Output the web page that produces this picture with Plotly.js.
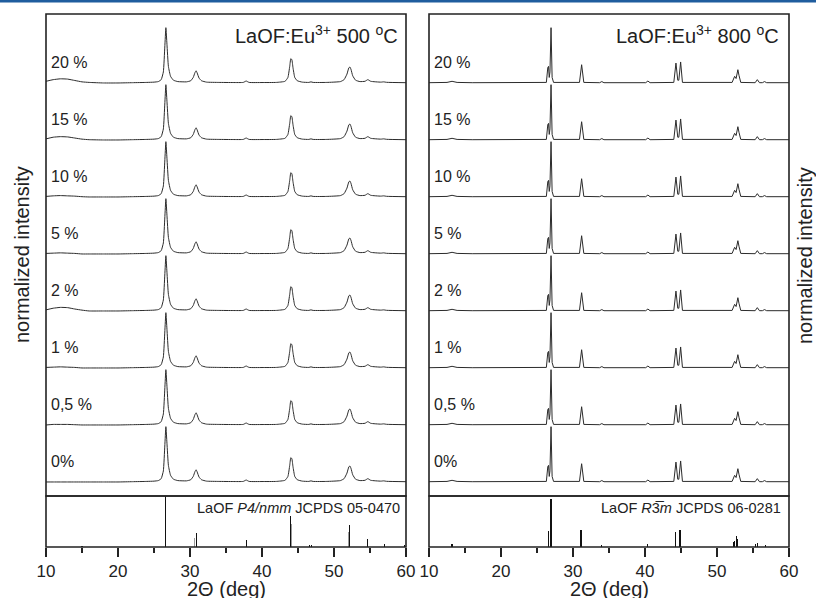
<!DOCTYPE html>
<html>
<head>
<meta charset="utf-8">
<script src="https://cdn.plot.ly/plotly-3.0.1.min.js"></script>
<style>html,body{margin:0;padding:0;background:#fff;}#chart{width:816px;height:598px;}</style>
</head>
<body>
<div id="chart"></div>
<script>
// ---- sample labels (bottom to top) ----
const samples = ['0%', '0,5 %', '1 %', '2 %', '5 %', '10 %', '15 %', '20 %'];

// ---- 500 °C pattern (normalized) ----
const twoTheta500 = [10, 11, 12, 13, 14, 15, 16, 18, 20, 22, 24, 25, 25.6, 26.0, 26.3, 26.5, 26.65, 26.8, 27.0, 27.3, 27.7, 28.3,
  29.5, 30.1, 30.45, 30.7, 30.85, 31.0, 31.25, 31.6, 32.3, 34, 36, 37.4, 37.8, 38.2, 40, 42, 43.2, 43.6, 43.85, 44.0, 44.15,
  44.3, 44.55, 44.9, 45.6, 46.5, 46.8, 47.1, 49, 50.9, 51.4, 51.8, 52.05, 52.2, 52.35, 52.6, 53.0, 53.6, 54.3, 54.7, 55.1,
  56.5, 56.9, 57.3, 60];
const intensity500 = [0, 0, 0, 0, 0, 0, 0, 0, 0, 0.005, 0.01, 0.015, 0.025, 0.06, 0.2, 0.65, 1.0, 0.7, 0.3, 0.12, 0.05, 0.025,
  0.02, 0.04, 0.1, 0.19, 0.22, 0.18, 0.09, 0.04, 0.015, 0.01, 0.008, 0.01, 0.035, 0.01, 0.008, 0.01, 0.03, 0.1, 0.3, 0.44, 0.42,
  0.28, 0.1, 0.04, 0.015, 0.01, 0.02, 0.01, 0.01, 0.025, 0.06, 0.16, 0.27, 0.29, 0.25, 0.13, 0.05, 0.025, 0.03, 0.06, 0.03,
  0.015, 0.02, 0.012, 0.005];
// low-angle amorphous hump (10..16 deg) per sample
const hump500 = [
  [0, 0, 0, 0, 0, 0, 0],
  [0, 0.01, 0.01, 0.01, 0.005, 0, 0],
  [0.01, 0.015, 0.02, 0.015, 0.01, 0, 0],
  [0.02, 0.05, 0.065, 0.06, 0.035, 0.015, 0],
  [0.01, 0.015, 0.02, 0.015, 0.01, 0, 0],
  [0.01, 0.02, 0.025, 0.02, 0.015, 0.005, 0],
  [0.02, 0.05, 0.06, 0.055, 0.035, 0.015, 0.005],
  [0.03, 0.06, 0.075, 0.07, 0.045, 0.02, 0.01]
];

// ---- 800 °C pattern ----
const twoTheta800 = [10, 12.5, 13.2, 13.9, 16, 20, 24, 26.3, 26.5, 26.6, 26.7, 26.8, 26.95, 27.1, 27.3, 30.9, 31.2, 31.5,
  33.7, 34.0, 34.3, 40.1, 40.4, 40.7, 44.0, 44.3, 44.55, 44.7, 44.95, 45.2, 52.1, 52.45, 52.65, 52.9, 53.05, 53.3, 55.3, 55.6,
  55.9, 56.3, 56.6, 56.9, 60];
const intensity800 = [0.005, 0.01, 0.03, 0.01, 0.005, 0.005, 0.005, 0.01, 0.28, 0.3, 0.1, 0.2, 1.0, 0.1, 0.01, 0.01, 0.33, 0.01,
  0.005, 0.025, 0.005, 0.005, 0.035, 0.005, 0.01, 0.36, 0.05, 0.05, 0.38, 0.01, 0.01, 0.12, 0.08, 0.24, 0.14, 0.01, 0.005, 0.06,
  0.005, 0.005, 0.025, 0.005, 0.005];

// ---- reference patterns (JCPDS) ----
const ref0470Pos = [15.0, 26.6, 30.9, 37.8, 44.0, 46.6, 46.9, 52.2, 54.7, 57.0, 59.8];
const ref0470Int = [0.02, 1.0, 0.27, 0.14, 0.6, 0.03, 0.03, 0.44, 0.16, 0.06, 0.04];
const ref0470GreyPos = [30.6, 44.15, 52.0];
const ref0470GreyInt = [0.18, 0.45, 0.3];
const ref0281Pos = [13.2, 26.55, 26.95, 31.1, 34.0, 40.4, 44.25, 44.85, 52.3, 52.45, 52.7, 52.85, 55.4, 55.6, 56.7];
const ref0281Int = [0.05, 0.31, 0.94, 0.33, 0.03, 0.05, 0.3, 0.33, 0.1, 0.12, 0.21, 0.15, 0.06, 0.08, 0.03];

const xTickVals = [10, 20, 30, 40, 50, 60];
const xMinorVals = [15, 25, 35, 45, 55];

// ---- build traces ----
const lineColor = '#2b2b2b';
const scale = 0.97;
const traces = [];
samples.forEach((s, i) => {
  const y5 = intensity500.map((v, j) => i + scale * (v + (j < hump500[i].length ? hump500[i][j] : 0)));
  traces.push({x: twoTheta500, y: y5, xaxis: 'x', yaxis: 'y', type: 'scatter', mode: 'lines',
    line: {color: lineColor, width: 1, shape: 'spline', smoothing: 0.4}, hoverinfo: 'skip'});
  const y8 = intensity800.map(v => i + scale * v);
  traces.push({x: twoTheta800, y: y8, xaxis: 'x2', yaxis: 'y3', type: 'scatter', mode: 'lines',
    line: {color: lineColor, width: 1}, hoverinfo: 'skip'});
});
traces.push({x: ref0470GreyPos, y: ref0470GreyInt, xaxis: 'x', yaxis: 'y2', type: 'bar', width: 0.14,
  marker: {color: '#9a9a9a', line: {width: 0}}});
traces.push({x: ref0470Pos, y: ref0470Int, xaxis: 'x', yaxis: 'y2', type: 'bar', width: 0.16,
  marker: {color: '#111', line: {width: 0}}});
traces.push({x: ref0281Pos, y: ref0281Int, xaxis: 'x2', yaxis: 'y4', type: 'bar', width: 0.16,
  marker: {color: '#111', line: {width: 0}}});

const font = 'Liberation Sans, Arial, Helvetica, sans-serif';
const xCommon = {
  range: [10, 60], tickvals: xTickVals, ticktext: xTickVals.map(String),
  ticks: 'outside', ticklen: 9, tickwidth: 1.5, tickcolor: '#222',
  minor: {tickvals: xMinorVals, ticks: 'outside', ticklen: 5, tickwidth: 1.5, tickcolor: '#222', showgrid: false},
  showgrid: false, zeroline: false, showline: false,
  tickfont: {family: font, size: 17, color: '#222'}
};
const yCommon = {showgrid: false, zeroline: false, showticklabels: false, ticks: '', showline: false, fixedrange: true};
const splitY = 0.0957;

const shapes = [];
[['x', 'y'], ['x', 'y2'], ['x2', 'y3'], ['x2', 'y4']].forEach(([xa, ya]) => {
  shapes.push({type: 'rect', xref: xa + ' domain', yref: ya + ' domain', x0: 0, x1: 1, y0: 0, y1: 1,
    line: {color: '#222', width: 1.6}, layer: 'above'});
});
// journal header rule
shapes.push({type: 'rect', xref: 'paper', yref: 'paper', x0: -46 / 743, x1: 1 + 27 / 743,
  y0: 1 + 11.5 / 533, y1: 1 + 14.5 / 533, line: {width: 0}, fillcolor: '#1f5d9e'});

const annotations = [];
samples.forEach((s, i) => {
  annotations.push({xref: 'x', yref: 'y', x: 10.45, y: i + 0.36, xanchor: 'left', yanchor: 'middle', text: s,
    showarrow: false, font: {family: font, size: 16, color: '#222'}});
  annotations.push({xref: 'x2', yref: 'y3', x: 10.45, y: i + 0.36, xanchor: 'left', yanchor: 'middle', text: s,
    showarrow: false, font: {family: font, size: 16, color: '#222'}});
});
annotations.push({xref: 'x domain', yref: 'y domain', x: 0.982, y: 0.958, xanchor: 'right', yanchor: 'middle',
  text: 'LaOF:Eu<sup>3+</sup> 500 <sup>o</sup>C', showarrow: false, font: {family: font, size: 20, color: '#222'}});
annotations.push({xref: 'x2 domain', yref: 'y3 domain', x: 0.978, y: 0.958, xanchor: 'right', yanchor: 'middle',
  text: 'LaOF:Eu<sup>3+</sup> 800 <sup>o</sup>C', showarrow: false, font: {family: font, size: 20, color: '#222'}});
annotations.push({xref: 'x domain', yref: 'y2 domain', x: 0.99, y: 0.76, xanchor: 'right', yanchor: 'middle',
  text: 'LaOF <i>P4/nmm</i> JCPDS 05-0470', showarrow: false, font: {family: font, size: 14.5, color: '#222'}});
annotations.push({xref: 'x2 domain', yref: 'y4 domain', x: 0.983, y: 0.76, xanchor: 'right', yanchor: 'middle',
  text: 'LaOF <i>R</i>3\u0305<i>m</i> JCPDS 06-0281', showarrow: false, font: {family: font, size: 14.5, color: '#222'}});
// x-axis titles
['x domain', 'x2 domain'].forEach(xr => {
  annotations.push({xref: xr, yref: 'paper', x: 0.5, y: (547 - 589) / 533, xanchor: 'center', yanchor: 'middle',
    text: '2Θ (deg)', showarrow: false, font: {family: font, size: 20, color: '#222'}});
});
annotations.push({xref: 'paper', yref: 'paper', x: (22 - 46) / 743, y: (547 - 255) / 533, xanchor: 'center', yanchor: 'middle',
  textangle: -90, text: 'normalized intensity', showarrow: false, font: {family: font, size: 20, color: '#222'}});
annotations.push({xref: 'paper', yref: 'paper', x: 1 + (805 - 789) / 743, y: (547 - 255) / 533, xanchor: 'center', yanchor: 'middle',
  textangle: -90, text: 'normalized intensity', showarrow: false, font: {family: font, size: 20, color: '#222'}});

const layout = {
  width: 816, height: 598,
  margin: {l: 46, r: 27, t: 14, b: 51, pad: 0},
  paper_bgcolor: '#fff', plot_bgcolor: '#fff',
  showlegend: false, bargap: 0,
  xaxis: Object.assign({}, xCommon, {domain: [0, 360 / 743], anchor: 'y2'}),
  xaxis2: Object.assign({}, xCommon, {domain: [383 / 743, 1], anchor: 'y4'}),
  yaxis: Object.assign({}, yCommon, {domain: [splitY, 1], anchor: 'x', range: [-0.246, 8.21]}),
  yaxis2: Object.assign({}, yCommon, {domain: [0, splitY], anchor: 'x', range: [0, 1.0]}),
  yaxis3: Object.assign({}, yCommon, {domain: [splitY, 1], anchor: 'x2', range: [-0.246, 8.21]}),
  yaxis4: Object.assign({}, yCommon, {domain: [0, splitY], anchor: 'x2', range: [0, 1.0]}),
  shapes: shapes,
  annotations: annotations,
  font: {family: font, color: '#222'}
};

Plotly.newPlot('chart', traces, layout, {displayModeBar: false, staticPlot: true});
</script>
</body>
</html>
